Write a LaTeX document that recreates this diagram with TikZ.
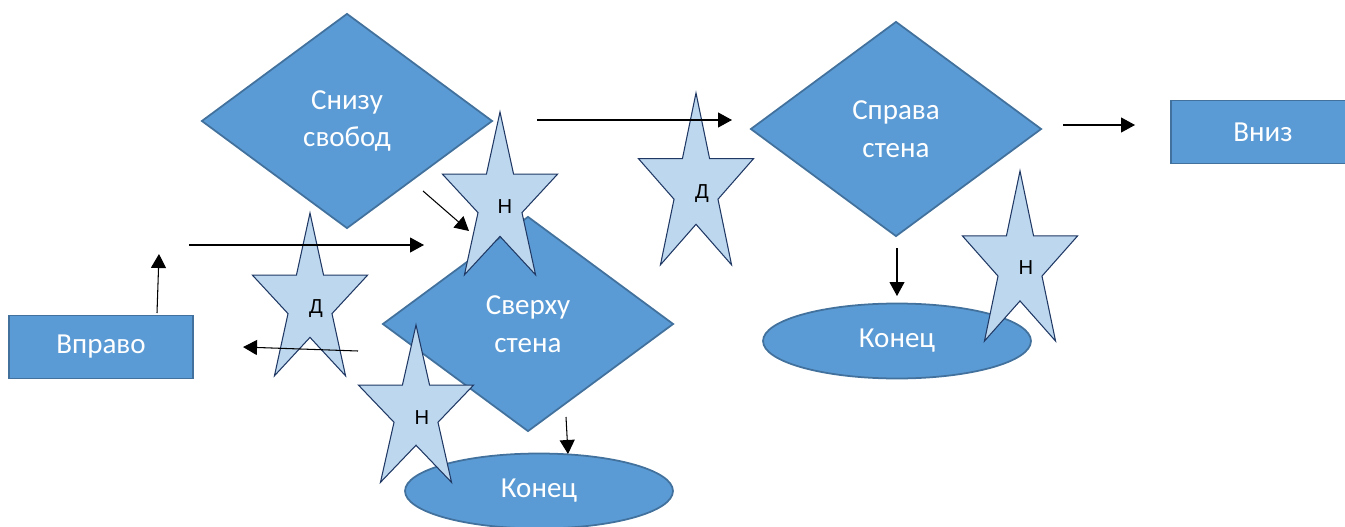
\documentclass[tikz,border=0pt]{standalone}
\usepackage{fontspec}
\usepackage{tikz}
\usetikzlibrary{arrows.meta,shapes.geometric,calc}
\newfontfamily\carlito{Carlito}
\newfontfamily\libsans{Liberation Sans}
\definecolor{ShapeBlue}{RGB}{91,155,213}
\definecolor{ShapeEdge}{RGB}{65,113,156}
\definecolor{StarBlue}{RGB}{189,215,238}
\definecolor{StarEdge}{RGB}{31,56,100}

% five-point star, stretched: #1 centre, #2 vertical radius
\newcommand{\zvezda}[2]{%
  \draw[zvgran] ($(#1)+(0,-#2)$)
    \foreach \k [evaluate=\k as \dx using {60.5*(1-0.618*mod(\k,2))*cos(270+36*\k)},
                 evaluate=\k as \dy using {#2*(1-0.618*mod(\k,2))*sin(270+36*\k)}] in {1,...,9}
      { -- ($(#1)+(\dx,\dy)$) } -- cycle;}

\begin{document}
\begin{tikzpicture}[x=0.02cm, y=-0.02cm,
  osnova/.style={draw=ShapeEdge, line width=1pt, fill=ShapeBlue, text=white, align=center, inner sep=0pt, font=\carlito\fontsize{16.5}{21.5}\selectfont},
  romb/.style={osnova, diamond, minimum width=5.82cm, minimum height=4.3cm},
  blok/.style={osnova, rectangle, minimum width=3.68cm, minimum height=1.26cm},
  oval/.style={osnova, ellipse, minimum width=5.36cm, minimum height=1.5cm},
  zvgran/.style={draw=StarEdge, line width=0.6pt, fill=StarBlue},
  metka/.style={font=\libsans\fontsize{11.5}{13}\selectfont, inner sep=0pt},
  strelka/.style={-{Triangle[length=0.28cm, width=0.3cm]}, line width=0.6pt}]
\useasboundingbox (0,0) rectangle (1345,527);

\node[romb] (sniz) at (347,121) {Снизу\\свобод};
\node[romb] (sverh) at (528,324) {Сверху\\стена};
\node[romb] (sprava) at (896,129) {Справа\\стена};
\node[blok] (vpravo) at (101,347) {Вправо};
\node[blok] (vniz) at (1263,132) {Вниз};
\node[oval] (konec1) at (539,491) {Конец};
\node[oval] (konec2) at (897,341) {Конец};

% stars
\coordinate (z1) at (500,202);
\coordinate (z2) at (310,303);
\coordinate (z3) at (696,188);
\coordinate (z4) at (1020,265);
\coordinate (z5) at (416,412);
\zvezda{z1}{90}
\zvezda{z2}{90}
\zvezda{z3}{95}
\zvezda{z4}{94}
\zvezda{z5}{87}
\node[metka] (m1) at (505,207) {Н};
\node[metka] (m2) at (316,309) {Д};
\node[metka] (m3) at (702,194) {Д};
\node[metka] (m4) at (1026,268) {Н};
\node[metka] (m5) at (422,418) {Н};

% arrows
\coordinate (s1) at (157,313); \coordinate (t1) at (159,254);
\coordinate (s2) at (189,245); \coordinate (t2) at (424,245);
\coordinate (s3) at (423,191); \coordinate (t3) at (469,231);
\coordinate (s4) at (358,351); \coordinate (t4) at (243,347);
\coordinate (s5) at (537,120); \coordinate (t5) at (732,120);
\coordinate (s6) at (566,417); \coordinate (t6) at (568,454);
\coordinate (s7) at (897,248); \coordinate (t7) at (897,296);
\coordinate (s8) at (1063,125); \coordinate (t8) at (1135,125);
\draw[strelka] (s1) -- (t1);
\draw[strelka] (s2) -- (t2);
\draw[strelka] (s3) -- (t3);
\draw[strelka] (s4) -- (t4);
\draw[strelka] (s5) -- (t5);
\draw[strelka] (s6) -- (t6);
\draw[strelka] (s7) -- (t7);
\draw[strelka] (s8) -- (t8);
\end{tikzpicture}
\end{document}
